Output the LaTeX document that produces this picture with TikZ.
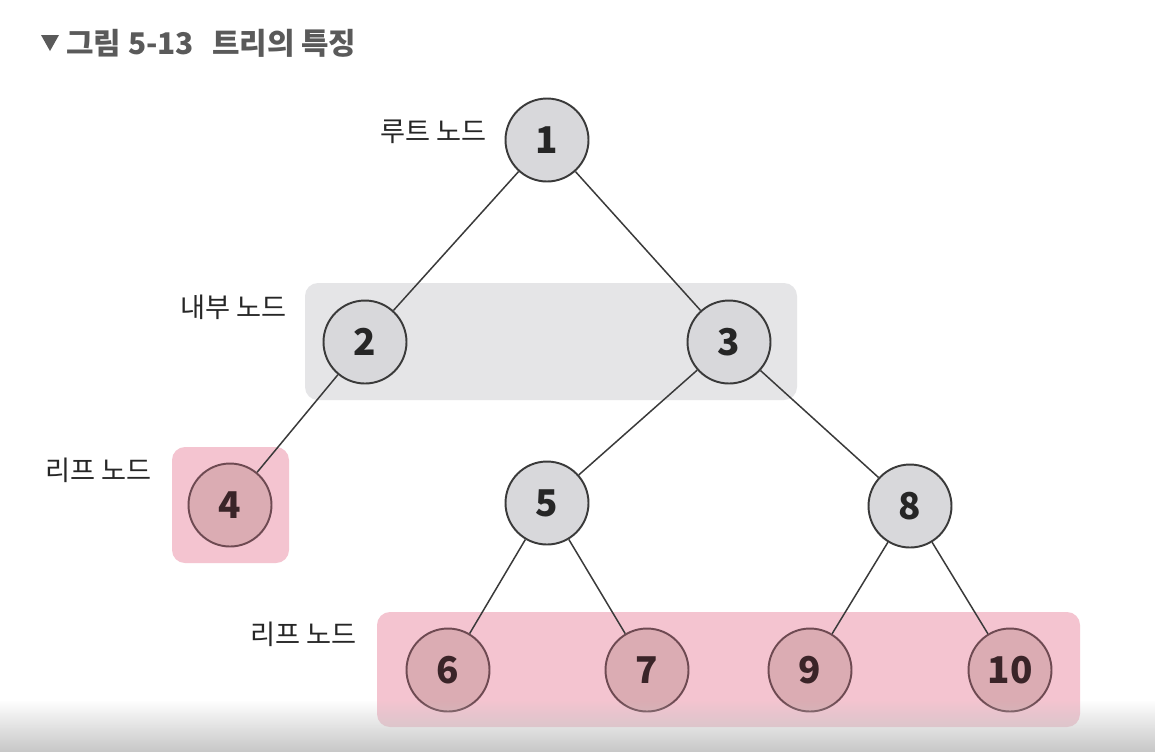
\documentclass[tikz,border=0pt]{standalone}
\usepackage{fontspec}
\newfontfamily\kr{Noto Sans CJK KR}
\usetikzlibrary{fadings}
\definecolor{boxgray}{HTML}{E5E5E7}
\definecolor{boxpink}{HTML}{F4C4D0}
\definecolor{nodegray}{HTML}{D8D8DB}
\definecolor{nodepink}{HTML}{DBACB3}
\definecolor{edgecol}{HTML}{3A3A3A}
\definecolor{pinkline}{HTML}{6E4A52}
\definecolor{titlecol}{HTML}{5A5A5A}
\definecolor{pinktext}{HTML}{3A2428}
\tikzset{
  tnode/.style={circle, draw=edgecol, fill=nodegray, line width=1.1pt,
    minimum size=1.66cm, inner sep=0pt, font=\kr\bfseries\fontsize{21}{21}\selectfont, text=black!85},
  leafnode/.style={tnode, draw=pinkline, fill=nodepink, text=pinktext},
  lbl/.style={font=\kr\fontsize{15.5}{15.5}\selectfont, text=black!85, inner sep=0pt},
  conn/.style={draw=edgecol, line width=0.85pt},
  hlbox/.style={rounded corners=0.26cm}
}
\begin{document}
\begin{tikzpicture}[x=0.02cm,y=-0.02cm]
\useasboundingbox (0,0) rectangle (1156,752);
\fill[white] (0,0) rectangle (1156,752);
% title
\fill[titlecol] (41,35) -- (59,35) -- (50,51) -- cycle;
\node[anchor=west, inner sep=0pt, text=titlecol, font=\kr\bfseries\fontsize{17}{17}\selectfont] (title) at (66,43) {그림 5-13\hspace{0.6em}트리의 특징};
% highlight boxes
\fill[boxgray, hlbox] (305,283) rectangle (797,400);
\fill[boxpink, hlbox] (172,447) rectangle (289,563);
\fill[boxpink, hlbox] (377,612) rectangle (1080,727);
% nodes
\node[tnode] (n1) at (547,140) {1};
\node[tnode] (n2) at (365,342) {2};
\node[tnode] (n3) at (729,342) {3};
\node[leafnode] (n4) at (230,505) {4};
\node[tnode] (n5) at (547,503) {5};
\node[tnode] (n8) at (910,506) {8};
\node[leafnode] (n6) at (448,670) {6};
\node[leafnode] (n7) at (647,670) {7};
\node[leafnode] (n9) at (810,670) {9};
\node[leafnode] (n10) at (1010,670) {10};
% edges
\draw[conn] (n1) -- (n2);
\draw[conn] (n1) -- (n3);
\draw[conn] (n2) -- (n4);
\draw[conn] (n3) -- (n5);
\draw[conn] (n3) -- (n8);
\draw[conn] (n5) -- (n6);
\draw[conn] (n5) -- (n7);
\draw[conn] (n8) -- (n9);
\draw[conn] (n8) -- (n10);
% labels
\node[lbl, anchor=east] (l1) at (487,132) {루트 노드};
\node[lbl, anchor=east] (l2) at (287,307) {내부 노드};
\node[lbl, anchor=east] (l3) at (152,470) {리프 노드};
\node[lbl, anchor=east] (l4) at (357,634) {리프 노드};
% bottom screen shade
\fill[black!22, path fading=north] (0,700) rectangle (1156,752);
\end{tikzpicture}
\end{document}
